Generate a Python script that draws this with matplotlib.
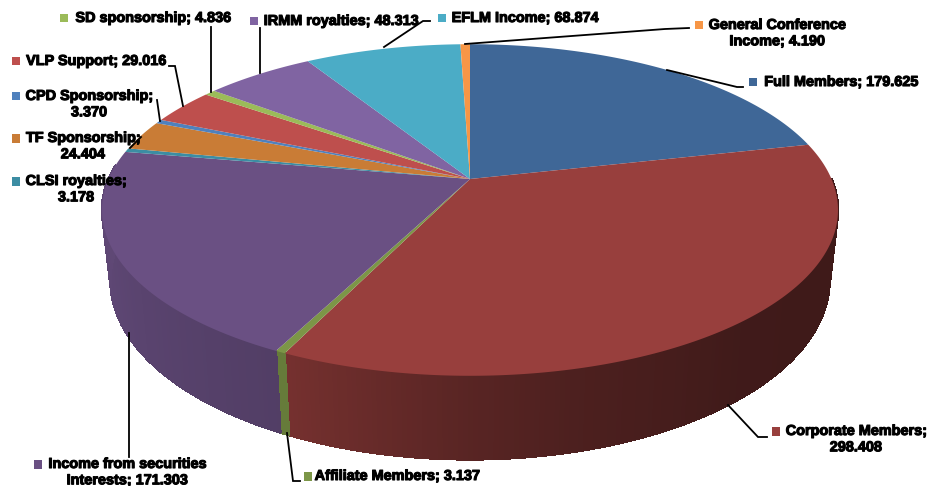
import numpy as np
import matplotlib
matplotlib.use('Agg')
import matplotlib.pyplot as plt
import matplotlib.patheffects as pe
from matplotlib.patches import Polygon, Rectangle

categories = ['Full Members', 'Corporate Members', 'Affiliate Members',
              'Income from securities Interests', 'CLSI royalties', 'TF Sponsorship',
              'CPD Sponsorship', 'VLP Support', 'SD sponsorship', 'IRMM royalties',
              'EFLM Income', 'General Conference Income']
values = [179.625, 298.408, 3.137, 171.303, 3.178, 24.404,
          3.370, 29.016, 4.836, 48.313, 68.874, 4.190]
colors = ['#3F6797', '#983F3D', '#7C9647', '#6A5083', '#3C8DA3', '#C97C36',
          '#4F81BD', '#BE4F4D', '#9BBB59', '#8064A2', '#4BACC6', '#F79646']

# label text, one entry per line
label_lines = [
    ['Full Members; 179.625'],
    ['Corporate Members;', '298.408'],
    ['Affiliate Members; 3.137'],
    ['Income from securities', 'Interests; 171.303'],
    ['CLSI royalties;', '3.178'],
    ['TF Sponsorship;', '24.404'],
    ['CPD Sponsorship;', '3.370'],
    ['VLP Support; 29.016'],
    ['SD sponsorship; 4.836'],
    ['IRMM royalties; 48.313'],
    ['EFLM Income; 68.874'],
    ['General Conference', 'Income; 4.190'],
]
# swatch x, first line y, text centre x
label_pos = [
    (749, 82, 841), (772, 431, 856), (304, 476, 397), (34, 464, 127),
    (12, 181, 76), (12, 138, 83), (12, 96, 89), (12, 61, 96),
    (60, 18, 153), (250, 21, 341), (438, 18, 525), (695, 25, 777),
]
leaders = [
    [(743, 87), (737, 87), (667, 70)],
    [(728, 405), (758, 437), (767, 437)],
    [(300, 481), (293, 481), (287, 433)],
    [(129, 333), (129, 457)],
    None,
    [(141, 137), (130, 148)],
    [(157, 100), (160, 121)],
    [(169, 66), (175, 66), (183, 106)],
    [(211, 27), (211, 92)],
    [(260, 28), (260, 73)],
    [(430, 21), (423, 21), (384, 47)],
    [(689, 28), (665, 29), (465, 44)],
]

# perspective of the pie disc, in pixels
CX, CY = 470, 179
A, B, K = 361.5, 160, 0.187
DEPTH, SHRINK = 68, 0.977


def top_xy(theta):
    u, v = np.sin(theta), np.cos(theta)
    w = 1 + K * v
    return CX + A * u / w, CY - B * v / w


def bottom_xy(theta):
    x, y = top_xy(theta)
    w = 1 + K * np.cos(theta)
    return CX + (x - CX) * SHRINK, y + DEPTH / w


def side_shade(deg):
    return np.interp(deg, [100, 140, 165, 180, 205, 245, 270],
                     [0.41, 0.42, 0.50, 0.58, 0.77, 0.87, 0.90])


fig = plt.figure(figsize=(9.27, 4.86), dpi=100)
ax = fig.add_axes([0, 0, 1, 1])
ax.set_xlim(0, 927)
ax.set_ylim(486, 0)
ax.axis('off')

edges = np.concatenate([[0], np.cumsum(values)]) / sum(values) * 2 * np.pi

# side wall, one thin strip at a time
for i, col in enumerate(colors):
    rgb = np.array(matplotlib.colors.to_rgb(col))
    t0, t1 = max(edges[i], np.radians(90)), min(edges[i + 1], np.radians(275))
    if t1 <= t0:
        continue
    steps = max(2, int(np.degrees(t1 - t0) * 1.5))
    ts = np.linspace(t0, t1, steps + 1)
    for a, b in zip(ts[:-1], ts[1:]):
        xa, ya = top_xy(a)
        xb, yb = top_xy(b)
        xc, yc = bottom_xy(b)
        xd, yd = bottom_xy(a)
        shade = side_shade(np.degrees((a + b) / 2))
        if col == '#7C9647':
            shade = 0.82
        c = rgb * shade
        ax.add_patch(Polygon([(xa, ya), (xb, yb), (xc, yc), (xd, yd)],
                             facecolor=c, edgecolor=c, linewidth=1.0,
                             antialiased=False, zorder=2))

# top face
for i, col in enumerate(colors):
    ts = np.linspace(edges[i], edges[i + 1], 200)
    xs, ys = top_xy(ts)
    pts = [(CX, CY)] + list(zip(xs, ys))
    ax.add_patch(Polygon(pts, facecolor=col, edgecolor='none', zorder=3))

# leader lines
for line in leaders:
    if line is None:
        continue
    ax.plot([p[0] for p in line], [p[1] for p in line], color='black', lw=1.3,
            solid_joinstyle='miter', zorder=4)

# labels
heavy = [pe.withStroke(linewidth=0.8, foreground='black')]
for i, lines in enumerate(label_lines):
    sx, ty, tc = label_pos[i]
    swatch = colors[i]
    ax.add_patch(Rectangle((sx, ty - 4), 8.5, 8.5, facecolor=swatch, edgecolor='none', zorder=5))
    for j, s in enumerate(lines):
        ax.text(tc, ty + j * 16.3, s, ha='center', va='center', fontsize=10.4,
                fontweight='bold', family='Liberation Sans', color='black',
                path_effects=heavy, zorder=6)

fig.savefig('out.png', dpi=100)
